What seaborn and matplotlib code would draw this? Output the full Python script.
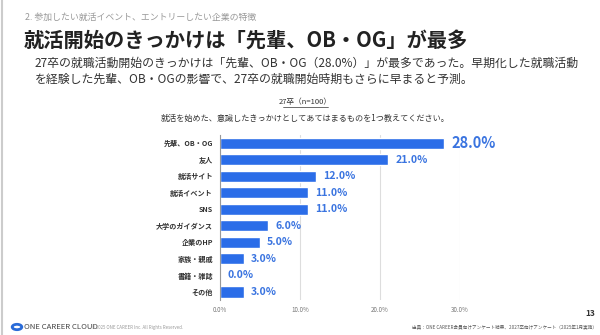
import matplotlib
matplotlib.use("Agg")
import matplotlib.pyplot as plt
import seaborn as sns
import pandas as pd
from matplotlib.lines import Line2D
from matplotlib.patches import Circle

categories = ["先輩、OB・OG", "友人", "就活サイト", "就活イベント", "SNS",
              "大学のガイダンス", "企業のHP", "家族・親戚", "書籍・雑誌", "その他"]
values = [28.0, 21.0, 12.0, 11.0, 11.0, 6.0, 5.0, 3.0, 0.0, 3.0]
xticks = [0, 10, 20, 30]
xtick_labels = ["0.0%", "10.0%", "20.0%", "30.0%"]

sns.set_theme(style="white")
plt.rcParams['font.family'] = ['Noto Sans CJK JP', 'DejaVu Sans']

df = pd.DataFrame({"cat": categories, "val": values})

fig = plt.figure(figsize=(6.0, 3.35), dpi=100)
fig.patch.set_facecolor("white")
ax = fig.add_axes([0.3667, 0.104, 0.40, 0.493])

bar_color = "#2B6DE8"
label_color = "#3A74E0"
sns.barplot(data=df, x="val", y="cat", orient="h", color=bar_color,
            width=0.68, saturation=1, ax=ax)
ax.set_xlim(0, 30)
ax.set_xticks(xticks)
ax.set_xticklabels(xtick_labels, fontsize=4.5, color="#777777")
ax.tick_params(axis="x", length=0, pad=4)
ax.tick_params(axis="y", length=0, pad=5)
for lab in ax.get_yticklabels():
    lab.set_fontsize(5.1)
    lab.set_fontweight("bold")
    lab.set_color("#333333")
ax.set_xlabel("")
ax.set_ylabel("")
ax.xaxis.grid(True, color="#DDDDDD", linewidth=0.8)
ax.set_axisbelow(True)
for s in ["top", "right", "bottom"]:
    ax.spines[s].set_visible(False)
ax.spines["left"].set_color("#999999")
ax.spines["left"].set_linewidth(0.8)

for i, v in enumerate(values):
    if i == 0:
        ax.text(v + 0.9, i, f"{v:.1f}%", va="center", ha="left",
                fontsize=10.5, fontweight="bold", color=label_color)
    else:
        ax.text(v + 0.9, i, f"{v:.1f}%", va="center", ha="left",
                fontsize=7.6, fontweight="bold", color=label_color)

# Texts
fig.text(25/600, 1-17/335, "2. 参加したい就活イベント、エントリーしたい企業の特徴",
         fontsize=6.4, color="#999999", va="center", ha="left")
fig.text(24/600, 1-41/335, "就活開始のきっかけは「先輩、OB・OG」が最多",
         fontsize=14.6, fontweight="bold", color="#222222", va="center", ha="left")
fig.text(35/600, 1-63/335, "27卒の就職活動開始のきっかけは「先輩、OB・OG（28.0%）」が最多であった。早期化した就職活動",
         fontsize=8.55, color="#333333", va="center", ha="left")
fig.text(35/600, 1-79/335, "を経験した先輩、OB・OGの影響で、27卒の就職開始時期もさらに早まると予測。",
         fontsize=8.55, color="#333333", va="center", ha="left")
fig.text(305/600, 1-102/335, "27卒（n=100）", fontsize=5.5, color="#333333",
         va="center", ha="center")
fig.add_artist(Line2D([283/600, 328/600], [1-107/335, 1-107/335],
                      color="#333333", linewidth=0.5))
fig.text(305/600, 1-118/335, "就活を始めた、意識したきっかけとしてあてはまるものを1つ教えてください。",
         fontsize=5.85, color="#333333", va="center", ha="center")

# footer
fig.add_artist(Circle((17/600, 1-327/335), 0.008, transform=fig.transFigure,
                      facecolor="white", edgecolor="#2A6BD8", linewidth=2))
fig.text(24/600, 1-327/335, "ONE CAREER CLOUD", fontsize=5.6, color="#444444",
         va="center", ha="left")
fig.text(91/600, 1-327/335, "© 2025 ONE CAREER Inc. All Rights Reserved.",
         fontsize=3.2, color="#999999", va="center", ha="left")
fig.text(595/600, 1-313/335, "13", fontsize=6, fontweight="bold", color="#333333",
         va="center", ha="right")
fig.text(597/600, 1-327/335, "出典：ONE CAREER会員向けアンケート結果、2027卒向けアンケート（2025年1月実施）",
         fontsize=3.3, color="#555555", va="center", ha="right")
fig.add_artist(Line2D([1.5/600, 1.5/600], [0, 1], color="#CCCCCC", linewidth=1.5))

fig.savefig("out.png", dpi=100, facecolor="white")
